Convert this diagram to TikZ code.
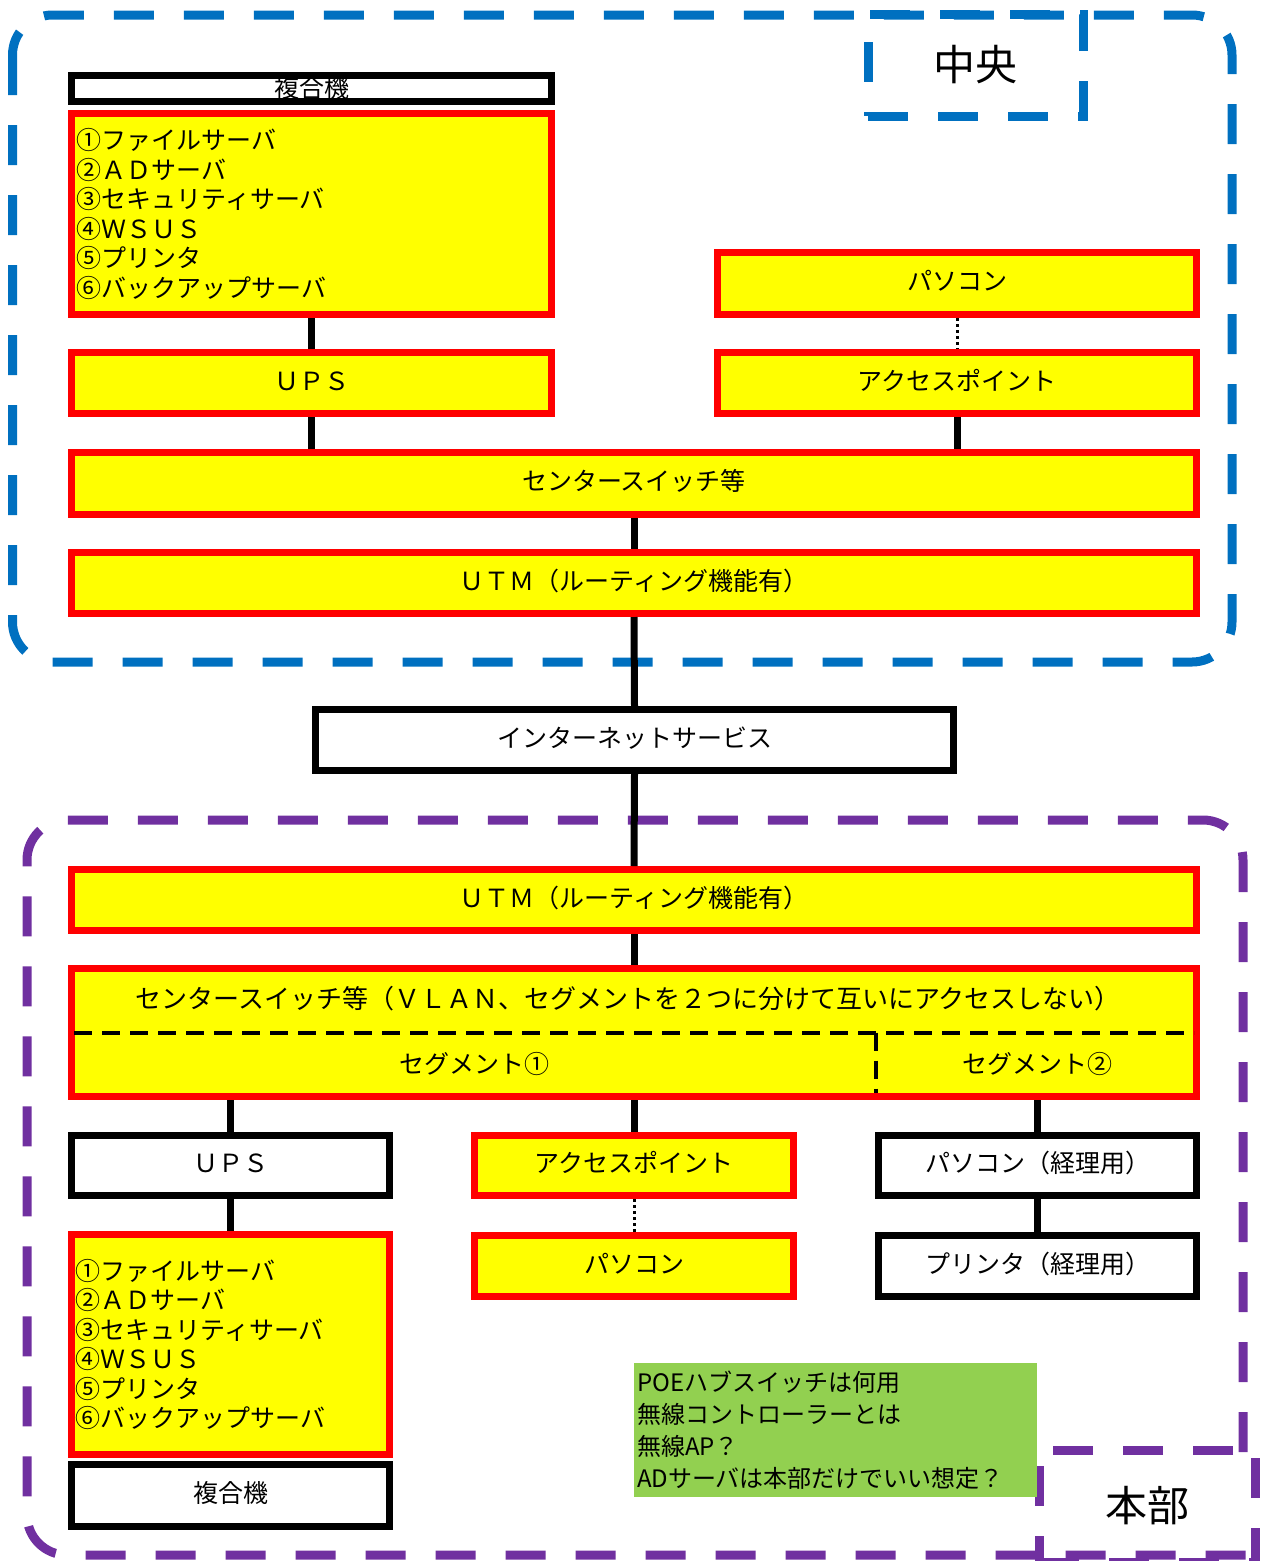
\documentclass[tikz,border=0pt]{standalone}
\usepackage{fontspec}
\setmainfont{Noto Sans CJK JP}
\definecolor{cblue}{HTML}{0070C0}
\definecolor{cpurple}{HTML}{7030A0}
\definecolor{cgreen}{HTML}{92D050}
\definecolor{cyellow}{HTML}{FFFF00}
\definecolor{cred}{HTML}{FF0000}
\newcommand\bodyfont{\fontsize{25pt}{29.5pt}\selectfont}
\newcommand\widefont{\fontsize{26pt}{30pt}\selectfont}
\newcommand\notefont{\fontsize{24pt}{32pt}\selectfont}
\newcommand\bigfont{\fontsize{42pt}{48pt}\selectfont}
\begin{document}
\begin{tikzpicture}[x=1pt,y=-1pt,
  redbox/.style={draw=cred,fill=cyellow,line width=7pt,inner sep=0pt,font=\bodyfont,text height=1.44em,text depth=0pt},
  blackbox/.style={draw=black,fill=white,line width=7pt,inner sep=0pt,font=\bodyfont,text height=1.44em,text depth=0pt},
  listbox/.style={draw=cred,fill=cyellow,line width=7pt,inner sep=2pt,align=left,font=\bodyfont},
  conn/.style={line width=7pt,black},
  dotconn/.style={line width=3pt,black,dash pattern=on 3pt off 3pt},
  segdash/.style={line width=4pt,black,dash pattern=on 18pt off 10pt},
  bigdash/.style={line width=9pt,dash pattern=on 40pt off 30pt},
  plain/.style={font=\bodyfont,inner sep=0pt}]
\useasboundingbox (0,0) rectangle (1264,1561);
% outer groups
\draw[cblue,bigdash,rounded corners=40pt] (12.5,15) rectangle (1232,662);
\draw[cpurple,bigdash,rounded corners=40pt] (1243,1452) -- (1243,820) -- (27,820) -- (27,1555) -- (1262,1555);
\node[draw=cblue,bigdash,minimum width=215pt,minimum height=102pt,font=\bigfont] (chuo) at (975.5,65) {中央};
\node[draw=cpurple,bigdash,minimum width=216pt,minimum height=112pt,font=\bigfont] (honbu) at (1147,1506) {本部};
% top section
\node[blackbox,minimum width=480pt,minimum height=26pt,text height=1.04em] (mfp1) at (311.5,88.5) {\raisebox{-4pt}{複合機}};
\node[listbox,minimum width=480pt,minimum height=201pt,text width=470pt] (list1) at (311.5,214)
  {①ファイルサーバ\\②ＡＤサーバ\\③セキュリティサーバ\\④ＷＳＵＳ\\⑤プリンタ\\⑥バックアップサーバ};
\node[redbox,minimum width=480pt,minimum height=61pt] (ups1) at (311.5,383) {ＵＰＳ};
\node[redbox,minimum width=479pt,minimum height=62pt] (pc1) at (957,283.5) {パソコン};
\node[redbox,minimum width=479pt,minimum height=61pt] (ap1) at (957,383) {アクセスポイント};
\node[redbox,minimum width=1125pt,minimum height=62pt] (sw1) at (634,483.5) {センタースイッチ等};
\node[redbox,minimum width=1125pt,minimum height=61pt] (utm1) at (634,583) {ＵＴＭ（ルーティング機能有）};
\node[blackbox,minimum width=638pt,minimum height=61pt] (inet) at (634.5,740) {インターネットサービス};
% bottom section
\node[redbox,minimum width=1125pt,minimum height=61pt] (utm2) at (634,900) {ＵＴＭ（ルーティング機能有）};
\node[redbox,minimum width=1125pt,minimum height=128pt] (sw2) at (634,1032.5) {};
\coordinate (segsplit) at (876,1032.5);
\draw[segdash] ([xshift=6pt]sw2.west) -- ([xshift=-6pt]sw2.east);
\draw[segdash,shorten >=7pt] (segsplit) -- (segsplit |- sw2.south);
\node[plain,font=\widefont] (swtext) at (628,999) {センタースイッチ等（ＶＬＡＮ、セグメントを２つに分けて互いにアクセスしない）};
\node[plain] (seg1) at (474,1064) {セグメント①};
\node[plain] (seg2) at (1037,1064) {セグメント②};
\node[blackbox,minimum width=318pt,minimum height=60pt] (ups2) at (230.5,1165.5) {ＵＰＳ};
\node[listbox,minimum width=318pt,minimum height=220pt,text width=310pt] (list2) at (230.5,1344.5)
  {①ファイルサーバ\\②ＡＤサーバ\\③セキュリティサーバ\\④ＷＳＵＳ\\⑤プリンタ\\⑥バックアップサーバ};
\node[blackbox,minimum width=318pt,minimum height=62pt] (mfp2) at (230.5,1495.5) {複合機};
\node[redbox,minimum width=319pt,minimum height=60pt] (ap2) at (634,1165.5) {アクセスポイント};
\node[redbox,minimum width=319pt,minimum height=61pt] (pc2) at (634,1266) {パソコン};
\node[blackbox,minimum width=318pt,minimum height=60pt] (pcacc) at (1037.5,1165.5) {パソコン（経理用）};
\node[blackbox,minimum width=318pt,minimum height=61pt] (pracc) at (1037.5,1266) {プリンタ（経理用）};
\node[fill=cgreen,minimum width=403pt,minimum height=134pt,text width=397pt,align=left,inner sep=0pt,font=\notefont] (note) at (835.5,1430)
  {POEハブスイッチは何用\\無線コントローラーとは\\無線AP？\\ADサーバは本部だけでいい想定？};
% connectors
\draw[conn] (list1.south) -- (ups1.north);
\draw[conn] (ups1.south) -- (ups1.south |- sw1.north);
\draw[dotconn] (pc1.south) -- (ap1.north);
\draw[conn] (ap1.south) -- (ap1.south |- sw1.north);
\draw[conn] (sw1.south) -- (utm1.north);
\draw[conn] (utm1.south) -- (inet.north);
\draw[conn] (inet.south) -- (utm2.north);
\draw[conn] (utm2.south) -- (sw2.north);
\draw[conn] (ups2.north |- sw2.south) -- (ups2.north);
\draw[conn] (sw2.south) -- (ap2.north);
\draw[conn] (pcacc.north |- sw2.south) -- (pcacc.north);
\draw[conn] (ups2.south) -- (list2.north);
\draw[dotconn] (ap2.south) -- (pc2.north);
\draw[conn] (pcacc.south) -- (pracc.north);
\end{tikzpicture}
\end{document}
